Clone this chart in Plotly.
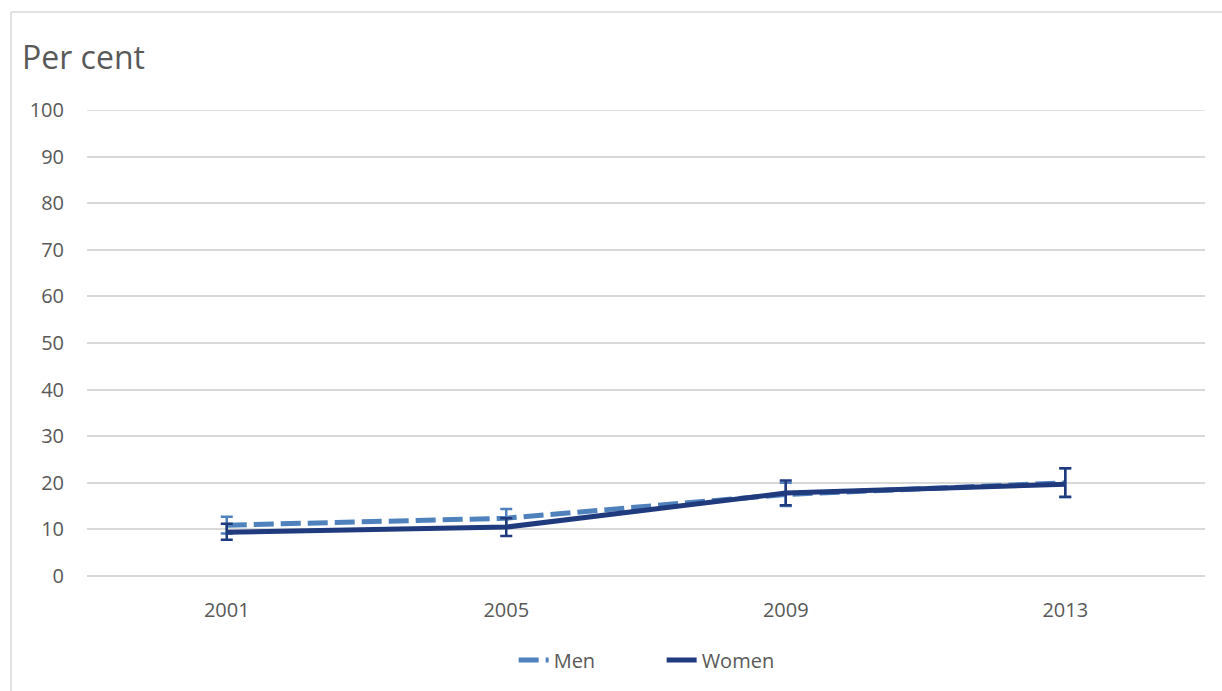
import plotly.graph_objects as go

years = ["2001", "2005", "2009", "2013"]

men = [10.9, 12.4, 17.5, 20.0]
men_err = [1.8, 2.0, 2.5, 3.1]

women = [9.4, 10.5, 17.8, 19.7]
women_err_plus = [1.8, 1.9, 2.7, 3.4]
women_err_minus = [1.6, 1.9, 2.6, 2.7]

y_ticks = list(range(0, 101, 10))

MEN_COLOR = "#4F81BD"
WOMEN_COLOR = "#203A7E"
TEXT_COLOR = "#595959"
GRID_COLOR = "#D9D9D9"
FONT = "Open Sans"

fig = go.Figure()

fig.add_trace(go.Scatter(
    x=years, y=men, name="Men", mode="lines",
    line=dict(color=MEN_COLOR, width=5, dash="20px,7px"),
    error_y=dict(type="data", array=men_err, visible=True,
                 color=MEN_COLOR, thickness=2.5, width=6),
))

fig.add_trace(go.Scatter(
    x=years, y=women, name="Women", mode="lines",
    line=dict(color=WOMEN_COLOR, width=5),
    error_y=dict(type="data", symmetric=False, array=women_err_plus,
                 arrayminus=women_err_minus, visible=True,
                 color=WOMEN_COLOR, thickness=2.5, width=6),
))

fig.update_layout(
    width=1222, height=691,
    margin=dict(l=87, r=17, t=110, b=115),
    paper_bgcolor="white", plot_bgcolor="white",
    font=dict(family=FONT, size=20, color=TEXT_COLOR),
    showlegend=True,
    legend=dict(orientation="h", x=0.514, xanchor="center",
                y=-0.18, yanchor="middle", entrywidth=103,
                font=dict(family=FONT, size=20, color=TEXT_COLOR),
                bgcolor="rgba(0,0,0,0)"),
    xaxis=dict(type="category", range=[-0.5, 3.5], showgrid=False,
               showline=False, zeroline=False, ticks="",
               ticklabelstandoff=20,
               tickfont=dict(family=FONT, size=20, color=TEXT_COLOR)),
    yaxis=dict(range=[0, 100], tickvals=y_ticks, showgrid=True,
               gridcolor=GRID_COLOR, gridwidth=1.5, zeroline=True,
               zerolinecolor=GRID_COLOR, zerolinewidth=1.5,
               showline=False, ticks="", ticklabelstandoff=22,
               tickfont=dict(family=FONT, size=20, color=TEXT_COLOR)),
    annotations=[dict(text="Per cent", xref="paper", yref="paper",
                      x=-0.06, y=1.114, xanchor="left", yanchor="middle",
                      showarrow=False,
                      font=dict(family=FONT, size=32, color=TEXT_COLOR))],
    shapes=[
        # top gridline at 100 (edge of the plotting range)
        dict(type="line", xref="paper", yref="y", x0=0, x1=1,
             y0=100, y1=100, layer="below",
             line=dict(color=GRID_COLOR, width=1.5)),
        # outer chart frame
        dict(type="line", xref="paper", yref="paper",
             x0=-0.068, x1=1.2, y0=1.2103, y1=1.2103,
             line=dict(color=GRID_COLOR, width=1.5)),
        dict(type="line", xref="paper", yref="paper",
             x0=-0.068, x1=-0.068, y0=-0.5, y1=1.2103,
             line=dict(color=GRID_COLOR, width=1.5)),
    ],
)

fig.write_html("out.html")
